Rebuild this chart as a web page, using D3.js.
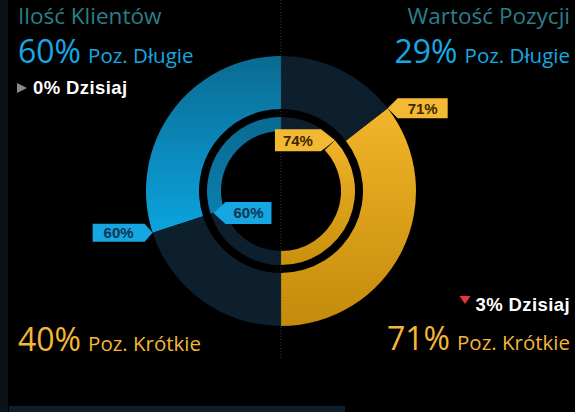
<!DOCTYPE html>
<html lang="pl">
<head>
<meta charset="utf-8">
<style>
  body { margin: 0; background: #000; }
  svg { display: block; }
  .title { font-family: "Open Sans", sans-serif; fill: #2b7f8b; font-size: 22.5px; font-weight: 500; }
  .big { font-family: "Open Sans", sans-serif; font-size: 32px; }
  .sub { font-family: "Open Sans", sans-serif; font-size: 20.5px; }
  .today { font-family: "Liberation Sans", Arial, sans-serif; font-weight: bold; font-size: 18.5px; letter-spacing: 0.4px; fill: #fff; }
  .tag { font-family: "Liberation Sans", Arial, sans-serif; font-size: 15px; font-weight: bold; }
</style>
</head>
<body>
<script src="https://d3js.org/d3.v7.min.js"></script>
<svg width="575" height="412"></svg>
<script>
// data
var titles = ["Ilość Klientów", "Wartość Pozycji"];
var longPct = [60, 29];
var shortPct = [40, 71];
var todayPct = [0, 3];
var outerPct = [60, 71];   // left: blue (long), right: gold (short)
var innerPct = [60, 74];

var svg = d3.select("svg");
var W = 575, H = 412;
var cx = 281, cy = 191;

svg.append("rect").attr("width", W).attr("height", H).attr("fill", "#000");
// left edge strip and bottom bar
svg.append("rect").attr("x", 0).attr("y", 0).attr("width", 8).attr("height", H).attr("fill", "#0b1318");
svg.append("rect").attr("x", 9).attr("y", 406).attr("width", 336).attr("height", 6).attr("fill", "#0f1f2a");

var defs = svg.append("defs");
function grad(id, c1, c2) {
  var g = defs.append("linearGradient").attr("id", id)
    .attr("x1", 0).attr("y1", 0).attr("x2", 0).attr("y2", 1);
  g.append("stop").attr("offset", "0%").attr("stop-color", c1);
  g.append("stop").attr("offset", "100%").attr("stop-color", c2);
}
grad("blueOuter", "#0b6a92", "#0ba4de");
grad("blueInner", "#0a6a92", "#0a7eab");
grad("goldOuter", "#f2b52a", "#c48a0a");
grad("goldInner", "#f0b228", "#c8900c");

var dark = "#0d1f2c";
var rings = { outer: [82, 135], inner: [60, 74] };

// angle scales: left half goes counter-clockwise from top, right half from bottom upward
var angLeft = d3.scaleLinear().domain([0, 100]).range([0, -Math.PI]);
var angRight = d3.scaleLinear().domain([0, 100]).range([Math.PI, 0]);

var g = svg.append("g").attr("transform", "translate(" + cx + "," + cy + ")");
var arc = d3.arc();

function seg(r, a0, a1, fill) {
  g.append("path")
    .attr("d", arc({ innerRadius: r[0], outerRadius: r[1], startAngle: a0, endAngle: a1 }))
    .attr("fill", fill);
}

// left half
seg(rings.outer, angLeft(0), angLeft(outerPct[0]), "url(#blueOuter)");
seg(rings.outer, angLeft(outerPct[0]), angLeft(100), dark);
seg(rings.inner, angLeft(0), angLeft(innerPct[0]), "url(#blueInner)");
seg(rings.inner, angLeft(innerPct[0]), angLeft(100), dark);
// right half
seg(rings.outer, angRight(0), angRight(outerPct[1]), "url(#goldOuter)");
seg(rings.outer, angRight(outerPct[1]), angRight(100), dark);
seg(rings.inner, angRight(0), angRight(innerPct[1]), "url(#goldInner)");
seg(rings.inner, angRight(innerPct[1]), angRight(100), dark);

// dotted divider
svg.append("line").attr("x1", cx).attr("x2", cx).attr("y1", 0).attr("y2", 360)
  .attr("stroke", "#3a3f44").attr("stroke-width", 1).attr("stroke-dasharray", "1,2");

// tag labels
function point(a, r) { return [cx + r * Math.sin(a), cy - r * Math.cos(a)]; }
function tag(tip, dir, notch, w, h, fill, txtFill, txt) {
  // dir = 1 -> box to the right of tip, -1 -> box to the left
  var x = tip[0], y = tip[1];
  var x1 = x + dir * notch, x2 = x + dir * (notch + w);
  var p = d3.path();
  p.moveTo(x, y);
  p.lineTo(x1, y - h / 2);
  p.lineTo(x2, y - h / 2);
  p.lineTo(x2, y + h / 2);
  p.lineTo(x1, y + h / 2);
  p.closePath();
  svg.append("path").attr("d", p.toString()).attr("fill", fill);
  svg.append("text").attr("class", "tag")
    .attr("x", (x1 + x2) / 2).attr("y", y + 5.5)
    .attr("text-anchor", "middle").attr("fill", txtFill).text(txt);
}
var blueTag = "#16a6e2", goldTag = "#f4b933";
tag(point(angLeft(outerPct[0]), 135), -1, 8, 52, 18, blueTag, "#0e3550", outerPct[0] + "%");
tag(point(angLeft(innerPct[0]), 71), 1, 12, 46, 22, blueTag, "#0e3550", innerPct[0] + "%");
tag(point(angRight(outerPct[1]), 135), 1, 10, 50, 20, goldTag, "#3a2800", outerPct[1] + "%");
tag(point(angRight(innerPct[1]), 74), -1, 14, 46, 22, goldTag, "#3a2800", innerPct[1] + "%");

// texts
var blue = "#17a8e3", gold = "#f4b638";
svg.append("text").attr("class", "title").attr("x", 18).attr("y", 24).text(titles[0]);
svg.append("text").attr("class", "title").attr("x", 570).attr("y", 24)
  .attr("text-anchor", "end").text(titles[1]);

function pctLine(x, y, anchor, val, label, color) {
  var t = svg.append("text").attr("x", x).attr("y", y).attr("text-anchor", anchor).attr("fill", color);
  t.append("tspan").attr("class", "big").text(val + "%");
  t.append("tspan").attr("class", "sub").attr("dx", 7).text(label);
}
pctLine(18, 63, "start", longPct[0], "Poz. Długie", blue);
pctLine(570, 63, "end", longPct[1], "Poz. Długie", blue);
pctLine(18, 351, "start", shortPct[0], "Poz. Krótkie", gold);
pctLine(570, 350, "end", shortPct[1], "Poz. Krótkie", gold);

// today indicators
svg.append("path").attr("d", "M17,83 L27,88 L17,93 Z").attr("fill", "#8a8a8a");
svg.append("text").attr("class", "today").attr("x", 33).attr("y", 94).text(todayPct[0] + "% Dzisiaj");
var t2 = svg.append("text").attr("class", "today").attr("x", 570).attr("y", 311)
  .attr("text-anchor", "end").text(todayPct[1] + "% Dzisiaj");
var x0 = 570 - t2.node().getComputedTextLength();
svg.append("path")
  .attr("d", "M" + (x0 - 16) + ",296 L" + (x0 - 5) + ",296 L" + (x0 - 10.5) + ",304 Z")
  .attr("fill", "#e8343c");
</script>
</body>
</html>
